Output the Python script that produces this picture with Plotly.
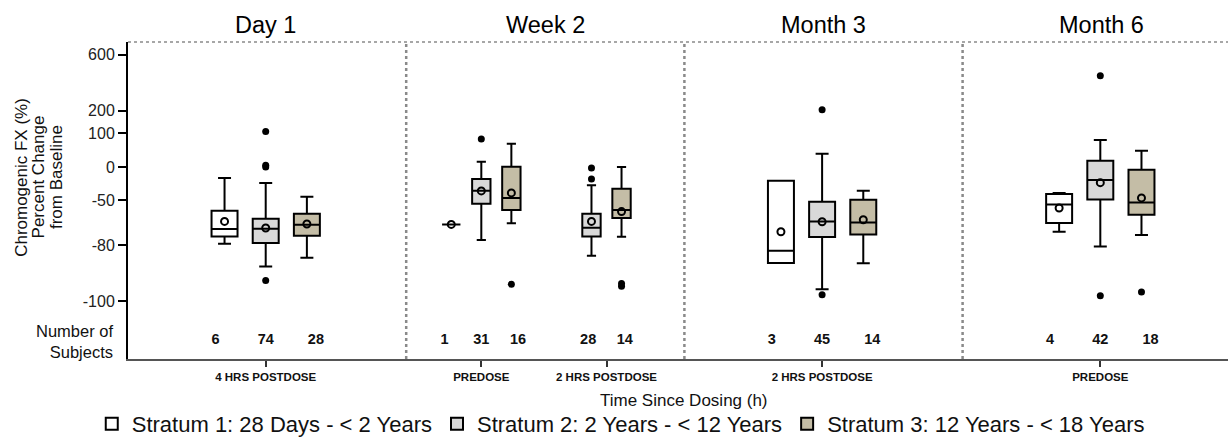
import numpy as np
import plotly.graph_objects as go

FONT = "Liberation Sans, Arial, sans-serif"

# Visits (panels) and the sampling groups inside them
VISITS = ["Day 1", "Week 2", "Month 3", "Month 6"]
GROUP_VISIT = [0, 1, 1, 2, 3]
GROUP_LABELS = ["4 HRS POSTDOSE", "PREDOSE", "2 HRS POSTDOSE", "2 HRS POSTDOSE", "PREDOSE"]

STRATA = [
    "Stratum 1: 28 Days - < 2 Years",
    "Stratum 2: 2 Years - < 12 Years",
    "Stratum 3: 12 Years - < 18 Years",
]
STRATA_FILL = ["#ffffff", "#d9d9d9", "#c4bda6"]

# Percent change from baseline, one row per stratum, one column per group
N_SUBJECTS = [[6, 1, None, 3, 4], [74, 31, 28, 45, 42], [28, 16, 14, 14, 18]]
LOWER = [[-78.9, -66.0, None, -86.3, -70.9],
         [-87.5, -76.4, -83.7, -95.7, -80.4],
         [-84.4, -65.3, -74.2, -86.4, -73.1]]
Q1 = [[-74.0, -66.0, None, -86.3, -65.1],
      [-78.4, -52.2, -74.0, -74.4, -48.9],
      [-73.5, -56.4, -61.7, -72.7, -59.5]]
MEDIAN = [[-69.1, -66.0, None, -81.9, -52.7],
          [-68.9, -35.5, -68.2, -64.0, -19.5],
          [-66.2, -46.4, -56.4, -64.7, -51.5]]
Q3 = [[-56.9, -66.0, None, -20.5, -40.4],
      [-62.2, -18.0, -58.9, -50.9, 18.5],
      [-58.9, 0.9, -32.5, -49.0, -4.0]]
UPPER = [[-16.5, -66.0, None, -20.5, -38.9],
         [-24.0, 15.6, -27.5, 39.1, 79.4],
         [-44.5, 68.5, 0.0, -35.5, 47.9]]
MEAN = [[-64.0, -66.0, None, -70.9, -55.1],
        [-68.4, -35.9, -64.0, -64.2, -23.5],
        [-65.7, -38.9, -57.5, -62.9, -46.4]]
OUTLIERS = [[[], [], None, [], []],
            [[107.0, 5.0, 0.0, -92.5], [82.0], [-1.5, -18.0], [207.0, -97.6], [450.0, -98.0]],
            [[], [-93.9], [-93.6, -94.6], [], [-96.6]]]

# Axis scale: tick values and where they sit on the axis
TICK_VALUES = [-100, -80, -50, 0, 100, 200, 600]
TICK_POS = [-3.99, -2.33, -0.99, 0.0, 1.01, 1.67, 3.33]


def scale(v):
    return float(np.interp(v, TICK_VALUES, TICK_POS))


# Layout of groups along the x axis (one unit per visit panel)
GROUP_X = [0.495, 1.27, 1.72, 2.495, 3.495]
SLOT = [0.148, 0.108, 0.108, 0.148, 0.148]
BOX_W = [0.0934, 0.066, 0.066, 0.0934, 0.0934]
N_ROW_Y = -5.15

fig = go.Figure()

mean_x, mean_y, out_x, out_y = [], [], [], []
num_x, num_y, num_t = [], [], []
shown = set()
for g in range(len(GROUP_LABELS)):
    present = [s for s in range(3) if N_SUBJECTS[s][g] is not None]
    k = len(present)
    for i, s in enumerate(present):
        off = (i - (k - 1) / 2) * SLOT[g]
        x = GROUP_X[g] + off
        fig.add_trace(go.Box(
            x=[x],
            q1=[scale(Q1[s][g])], median=[scale(MEDIAN[s][g])], q3=[scale(Q3[s][g])],
            lowerfence=[scale(LOWER[s][g])], upperfence=[scale(UPPER[s][g])],
            width=BOX_W[g], whiskerwidth=0.5, boxpoints=False,
            fillcolor=STRATA_FILL[s], line=dict(color="black", width=2),
            name=STRATA[s], legendgroup=STRATA[s], showlegend=s not in shown,
            hoverinfo="skip",
        ))
        shown.add(s)
        mean_x.append(x)
        mean_y.append(scale(MEAN[s][g]))
        for v in OUTLIERS[s][g]:
            out_x.append(x)
            out_y.append(scale(v))
        num_x.append(GROUP_X[g] + off * 1.22)
        num_y.append(N_ROW_Y)
        num_t.append(f"<b>{N_SUBJECTS[s][g]}</b>")

fig.add_trace(go.Scatter(x=out_x, y=out_y, mode="markers", showlegend=False, hoverinfo="skip",
                         marker=dict(symbol="circle", size=7, color="black")))
fig.add_trace(go.Scatter(x=mean_x, y=mean_y, mode="markers", showlegend=False, hoverinfo="skip",
                         marker=dict(symbol="circle-open", size=7, color="black",
                                     line=dict(width=2, color="black"))))
fig.add_trace(go.Scatter(x=num_x, y=num_y, mode="text", text=num_t, showlegend=False,
                         hoverinfo="skip", textfont=dict(size=14.5, color="#111", family=FONT)))

# Panel separators and top border
for b in [1, 2, 3]:
    fig.add_shape(type="line", xref="x", yref="paper", x0=b, x1=b, y0=0, y1=1,
                  line=dict(color="#8a8a8a", width=2.5, dash="dot"), layer="below")
fig.add_shape(type="line", xref="paper", yref="paper", x0=0, x1=1, y0=1, y1=1,
              line=dict(color="#8a8a8a", width=1.5, dash="dot"), layer="below")

# Visit titles
for v, name in enumerate(VISITS):
    cx = GROUP_X[0] if v == 0 else v + 0.5
    fig.add_annotation(x=cx, y=1.055, xref="x", yref="paper", text=name, showarrow=False,
                       font=dict(size=23.5, color="black", family=FONT), yanchor="middle")

# Y axis title lines
for xp, line in zip([-0.0975, -0.0815, -0.0655],
                    ["Chromogenic FX (%)", "Percent Change", "from Baseline"]):
    fig.add_annotation(x=xp, y=-0.30, xref="paper", yref="y", text=line, textangle=-90,
                       showarrow=False, xanchor="center", yanchor="middle",
                       font=dict(size=17, color="#111", family=FONT))

fig.add_annotation(x=-0.0115, y=-5.175, xref="paper", yref="y", text="Number of<br>Subjects",
                   showarrow=False, xanchor="right", yanchor="middle", align="right",
                   font=dict(size=16.5, color="#111", family=FONT))

fig.add_annotation(x=2.0, y=-0.131, xref="x", yref="paper", text="Time Since Dosing (h)",
                   showarrow=False, xanchor="center", yanchor="middle",
                   font=dict(size=17, color="#111", family=FONT))

fig.update_layout(
    width=1228, height=437,
    margin=dict(l=128, r=0, t=42, b=78, autoexpand=False),
    paper_bgcolor="white", plot_bgcolor="white",
    boxmode="overlay",
    font=dict(family=FONT, color="black"),
    showlegend=True,
    legend=dict(orientation="h", x=0.5055, xanchor="center", xref="container",
                y=0.03, yanchor="middle", yref="container",
                font=dict(size=22, color="#111", family=FONT), bgcolor="rgba(0,0,0,0)",
                itemclick=False, itemdoubleclick=False),
    xaxis=dict(range=[0, 3.954], tickvals=GROUP_X,
               ticktext=[f"<b>{t}</b>" for t in GROUP_LABELS],
               tickfont=dict(size=11.5, color="#111", family=FONT),
               ticks="outside", ticklen=6, tickwidth=1.5, tickcolor="#333",
               showline=True, linecolor="#555", linewidth=1.5,
               showgrid=False, zeroline=False, fixedrange=True),
    yaxis=dict(range=[-5.70, 3.71], tickvals=[scale(v) for v in TICK_VALUES],
               ticktext=[str(v) for v in TICK_VALUES],
               tickfont=dict(size=16, color="#222", family=FONT),
               ticks="outside", ticklen=8, tickwidth=1.5, tickcolor="black",
               showline=True, linecolor="black", linewidth=2,
               showgrid=False, zeroline=False, fixedrange=True),
)

fig.write_html("out.html", config={"displayModeBar": False})
